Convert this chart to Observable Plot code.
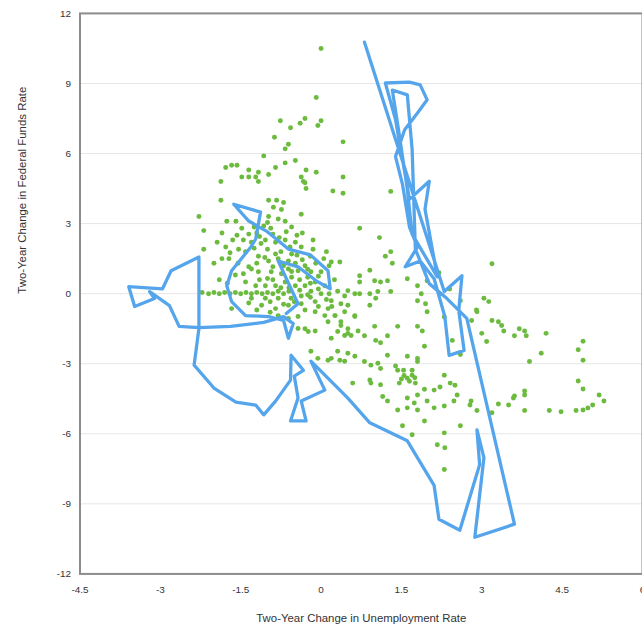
<!DOCTYPE html>
<html>
<head>
<meta charset="utf-8">
<script src="https://cdn.jsdelivr.net/npm/d3@7"></script>
<script src="https://cdn.jsdelivr.net/npm/@observablehq/plot@0.6"></script>
<style>
  html, body { margin: 0; padding: 0; background: #fff; overflow: hidden; }
  #chart svg { display: block; }
</style>
</head>
<body>
<div id="chart"></div>
<script>
// Tick values
const xTicks = [-4.5, -3, -1.5, 0, 1.5, 3, 4.5, 6];
const yTicks = [-12, -9, -6, -3, 0, 3, 6, 9, 12];
const xTitle = "Two-Year Change in Unemployment Rate";
const yTitle = "Two-Year Change in Federal Funds Rate";

// Green dots: [unemployment change, fed funds change]
const dotsUpper = [
  [0.0,10.5],[-0.09,8.4],[-0.76,7.4],[-0.57,7.1],[-0.3,7.5],[-0.39,7.3],[-0.06,7.2],[0.0,7.4],
  [-0.87,6.7],[0.41,6.5],[-0.61,6.4],[-0.67,6.2],[-1.07,5.9],[-0.48,5.7],[-0.67,5.6],[-0.85,5.4],
  [-1.78,5.4],[-1.67,5.5],[-1.57,5.5],[-1.35,5.3],[-1.48,5.0],[-1.35,5.0],[-1.22,5.0],[-1.17,5.2],
  [-1.17,4.8],[-0.98,5.1],[-0.28,5.3],[-0.37,5.0],[-0.33,4.8],[-0.3,4.75],[-0.09,5.2],[0.41,5.0],
  [-0.28,4.5],[0.22,4.4],[0.41,4.3],[-1.87,4.8],[-1.87,4.0],[-0.98,4.0],[-0.83,4.0],[-0.7,3.9],
  [-0.89,3.7],[-0.74,3.6],[-0.37,3.4],[1.3,4.38]
];
const dotsCore = [
  [-2.28,3.3],[-2.19,2.7],[-2.19,1.9],[-1.85,1.5],[-1.72,1.5],[-0.98,3.3],[-0.8,3.2],[-0.67,3.1],
  [-1.76,3.1],[-1.59,3.1],[-1.85,2.6],[-1.57,2.5],[-1.48,2.8],[-1.94,2.2],[-1.78,2.0],[-1.54,1.9],
  [-1.41,1.8],[-1.07,2.9],[-0.94,2.8],[-1.04,2.3],[-0.85,2.2],[-0.67,2.3],[-0.48,2.2],[-0.37,2.0],
  [-1.17,1.6],[-0.98,1.4],[-0.8,1.5],[-0.61,1.4],[-0.48,1.3],[-0.3,1.2],[-0.19,0.94],[0.0,0.94],
  [-1.3,1.06],[-1.17,0.94],[-0.93,0.94],[-0.74,0.85],[-0.61,1.06],[-0.43,0.98],[-1.41,0.5],[-1.22,0.34],
  [-1.04,0.34],[-0.85,0.34],[-0.67,0.5],[-0.48,0.34],[-0.3,0.34],[-0.11,0.5],[0.07,0.34],
  [-2.22,0.05],[-2.1,0.0],[-2.0,0.05],[-1.9,0.0],[-1.8,0.05],[-1.7,0.0],[-1.6,0.05],[-1.5,0.0],
  [-1.4,0.05],[-1.3,0.0],[-1.2,0.05],[-1.1,0.0],[-1.0,0.05],[-0.9,0.0],[-0.8,0.1],[-0.7,0.0],[-0.6,0.1],
  [-1.3,-0.2],[-1.04,-0.2],[-0.8,-0.2],[-0.56,-0.2],[-0.37,-0.1],[-0.19,0.1],[-1.67,-0.64],[-1.11,-0.5],
  [-0.85,-0.64],[-0.61,-0.5],[-0.37,-0.43],[-0.11,-0.34],[-0.8,-0.94],[-0.61,-1.06],[-0.43,-0.98],
  [-0.11,-0.77],[0.07,-0.94],[0.26,-0.94],[0.31,0.1],[0.44,-0.1],[0.13,-1.2],[0.37,-1.36],[0.5,-1.5],
  [-0.3,-1.5],[-0.11,-1.6],[0.44,-0.77],[0.63,-0.94],[0.44,-1.79],[0.56,-1.79],
  [-1.3,2.2],[-1.2,2.6],[-1.0,1.9],[-0.75,1.8],[-0.55,1.7],[-0.2,1.6],[0.05,1.5],[-0.9,1.15],
  [-1.55,1.3],[-1.6,0.8],[-1.45,0.85],[-0.25,0.7],[-0.05,0.2],[-0.55,0.7],[-1.0,0.65],[-0.35,2.6],
  [-0.15,2.3],[0.15,1.2],[0.25,0.6],[-1.15,2.45],[-0.65,2.65],[-1.35,-0.4],[-0.95,-0.35],[-0.7,-0.45],
  [-0.2,-0.15],[0.1,-0.25],
  [-0.19,-2.47],[-0.06,-2.77],[0.13,-2.85],[0.31,-2.47],[0.44,-2.89],[0.19,-1.91],[0.31,-1.62],
  [-0.43,-1.49],[-0.24,-1.62],
  [-1.45,2.3],[-1.35,2.55],[-1.25,1.95],[-1.12,2.15],[-0.9,2.55],[-0.78,2.4],[-0.58,2.0],[-0.45,1.65],
  [-0.35,1.45],[-0.1,1.3],[-0.25,1.05],[-0.05,0.75],[-0.85,1.7],[-1.05,1.55],[-1.2,1.3],[-1.35,1.15],
  [-0.7,1.2],[-0.55,0.95],[-0.4,0.6],[-0.2,0.45],[-0.9,0.6],[-1.15,0.6],[-0.75,0.25],[-0.6,0.25],
  [-0.4,0.15],[-0.25,-0.05],[0.0,0.0],[0.15,0.0],[-0.5,-0.35],[-0.3,-0.7],[-0.05,-0.55],[0.2,-0.55],
  [-1.25,2.85],[-1.0,3.05],[-0.55,2.85],[-0.45,2.5],[-0.15,1.9],[0.1,1.8],[-1.65,2.3],[-1.7,1.75],
  [-2.0,1.3],[-1.9,0.6],[-1.75,0.45],[-1.2,-0.7],[-0.95,-0.8]
];
const dotsMiddle = [
  [0.72,2.8],[1.09,2.4],[1.3,1.8],[1.2,1.6],[1.33,1.3],[0.19,1.36],[0.35,1.36],[0.91,1.0],
  [0.72,0.77],[0.72,0.5],[1.0,0.55],[1.11,0.5],[1.24,0.55],[1.61,0.64],[1.8,0.34],[1.98,0.55],
  [0.5,0.13],[0.63,0.0],[0.72,0.0],[0.91,0.0],[1.06,0.09],[1.02,-0.2],[1.3,0.09],[1.87,0.0],
  [1.8,-0.3],[1.95,-0.43],[0.19,-0.3],[0.37,-0.43],[0.5,-0.5],[0.91,-0.5],[1.98,-0.77],[0.13,-0.64],
  [0.26,-0.94],[0.37,-1.2],[0.63,-0.98],[1.0,-1.4],[1.43,-1.4],[1.8,-1.4],[1.89,-1.6],[0.5,-1.7],
  [0.69,-1.6],[0.81,-1.8],[1.02,-2.0],[1.11,-2.1],[1.24,-1.8],[1.93,-2.25],[0.5,-2.55],[0.63,-2.68],
  [0.19,-2.77],[0.35,-2.85],[1.24,-2.64],[0.81,-2.9],[0.93,-3.06],[1.06,-2.98],[1.11,-3.2],[1.39,-3.1],
  [1.43,-3.28],[1.61,-2.68],[1.8,-2.77],[1.8,-2.9],[0.59,-3.83],[0.91,-3.7],[0.93,-3.83],[1.11,-3.9],
  [1.46,-3.83],[1.61,-3.62],[1.7,-3.49],[1.76,-3.83],[1.54,-3.28],[1.7,-3.28],[1.55,-3.5],[1.65,-3.75],
  [1.5,-3.65],[1.75,-3.6],[1.93,-4.09],[2.11,-4.13],[2.22,-4.0],[2.3,-3.49],[2.41,-3.83],[2.5,-3.92],
  [1.15,-4.4],[1.24,-4.6],[1.61,-4.47],[1.74,-4.68],[1.8,-4.34],[1.98,-4.6],[2.11,-4.89],[2.3,-4.81],
  [2.48,-4.6],[2.54,-4.34],[2.8,-4.6],[1.43,-4.98],[1.61,-4.89],[1.8,-4.98],[1.93,-5.45],[1.52,-5.66],
  [2.6,-5.66],[1.7,-6.04],[2.3,-5.96],[2.17,-6.47],[2.31,-6.6],[2.3,-7.53],
  [2.2,0.9],[2.4,0.2],[2.6,-0.3],[2.3,-1.0],[2.45,-2.0],[2.6,-2.6]
];
const dotsRight = [
  [3.19,1.28],[3.04,-0.2],[3.13,-0.34],[2.9,-0.7],[2.91,-0.77],[2.81,-1.15],[3.19,-1.15],[3.31,-1.2],
  [3.37,-1.36],[3.41,-1.6],[3.61,-1.8],[3.7,-1.5],[3.8,-1.6],[3.83,-1.8],[4.2,-1.7],[3.0,-1.7],
  [3.09,-2.05],[4.11,-2.55],[3.89,-2.9],[4.89,-2.04],[4.8,-2.4],[4.89,-2.85],[4.8,-3.74],[4.89,-4.08],
  [5.19,-4.34],[5.28,-4.6],[4.76,-5.0],[4.89,-4.98],[4.98,-4.9],[5.07,-4.77],[4.26,-5.0],[4.48,-5.06],
  [3.8,-4.17],[3.8,-4.34],[3.61,-4.38],[3.59,-4.47],[3.5,-4.77],[3.31,-4.72],[3.8,-5.0],[2.78,-4.77],
  [2.91,-5.0],[3.19,-5.1]
];

// Blue path (connected in order): [unemployment change, fed funds change]
const pathPoints = [
  [0.81,10.77],[2.30,0.09],[2.63,0.77],[2.57,-0.72],[2.67,-2.43],[2.39,-2.64],[2.31,-0.98],[2.11,0.64],
  [1.85,1.40],[1.57,1.15],[1.80,2.0],[1.65,2.85],[1.52,4.68],[1.39,5.87],[1.56,7.02],[1.80,7.74],
  [1.98,8.30],[1.85,8.94],[1.65,9.06],[1.20,9.02],[1.39,7.45],[1.52,5.74],[1.65,4.04],[2.02,4.81],
  [1.94,3.62],[2.17,0.72],[1.70,2.55],[1.61,4.47],[1.46,6.81],[1.33,8.72],[1.61,8.51],[1.70,6.17],
  [1.76,1.91],[2.02,0.43],[2.35,-0.21],[2.72,-1.06],[3.61,-9.87],[2.87,-10.43],[3.04,-7.02],[2.91,-5.83],
  [2.96,-7.32],[2.59,-10.13],[2.20,-9.66],[2.11,-8.21],[1.61,-6.30],[0.91,-5.53],[0.50,-4.47],[-0.19,-2.89],
  [0.07,-4.13],[-0.37,-4.60],[-0.28,-5.45],[-0.57,-5.45],[-0.43,-4.47],[-0.50,-3.53],[-0.33,-3.28],[-0.56,-2.64],
  [-0.57,-3.70],[-0.85,-4.60],[-1.07,-5.19],[-1.22,-4.77],[-1.59,-4.64],[-2.0,-4.04],[-2.37,-3.06],[-2.28,-1.49],
  [-2.28,1.57],[-2.80,0.98],[-2.96,0.21],[-3.59,0.30],[-3.48,-0.55],[-3.11,-0.21],[-3.20,0.09],[-2.83,-0.51],
  [-2.65,-1.40],[-2.28,-1.45],[-1.69,-1.40],[-1.07,-1.23],[-0.70,-0.98],[-0.52,-1.28],[-0.61,-1.91],[-0.70,-1.15],
  [-0.98,-0.98],[-1.41,-0.94],[-1.67,-0.34],[-1.76,0.34],[-1.67,0.98],[-1.31,2.0],[-1.22,2.34],[-1.13,3.49],
  [-1.63,3.83],[-1.35,3.11],[-1.02,2.68],[-0.61,1.91],[-0.20,1.66],[0.13,0.98],[0.17,0.21],[-0.09,0.55],
  [-0.43,1.15],[-0.80,1.40],[-0.43,-0.43],[-0.65,-0.85]
];

const dots = [...dotsUpper, ...dotsCore, ...dotsMiddle, ...dotsRight].map(([u, f]) => ({u, f}));
const path = pathPoints.map(([u, f]) => ({u, f}));
const fmt = d => String(d);

const chart = Plot.plot({
  width: 646,
  height: 633,
  marginLeft: 80,
  marginRight: 0,
  marginTop: 13,
  marginBottom: 56,
  style: {fontFamily: "Arial, 'Liberation Sans', sans-serif", fontSize: "10px", color: "#333", background: "#fff"},
  x: {domain: [-4.5, 6], ticks: xTicks, tickFormat: fmt},
  y: {domain: [-12, 12], ticks: yTicks, tickFormat: fmt},
  marks: [
    Plot.gridY(yTicks, {stroke: "#e6e6e6", strokeOpacity: 1}),
    Plot.dot(dots, {x: "u", y: "f", r: 2.5, fill: "#6cbb3f", stroke: "none"}),
    Plot.line(path, {x: "u", y: "f", stroke: "#55a5ec", strokeWidth: 3.3, strokeLinejoin: "round", strokeLinecap: "round"}),
    Plot.frame({stroke: "#8c8c8c", strokeWidth: 2}),
    Plot.axisX(xTicks, {tickSize: 0, tickPadding: 12, label: null, fontSize: 10, tickFormat: fmt}),
    Plot.axisY(yTicks, {tickSize: 0, tickPadding: 9, label: null, fontSize: 10, tickFormat: fmt}),
    Plot.text([xTitle], {frameAnchor: "bottom", dy: 48, fontSize: 11.5, fill: "#333"}),
    Plot.text([yTitle], {frameAnchor: "left", dx: -58, rotate: -90, fontSize: 11.5, fill: "#333"})
  ]
});
document.getElementById("chart").appendChild(chart);
</script>
</body>
</html>
